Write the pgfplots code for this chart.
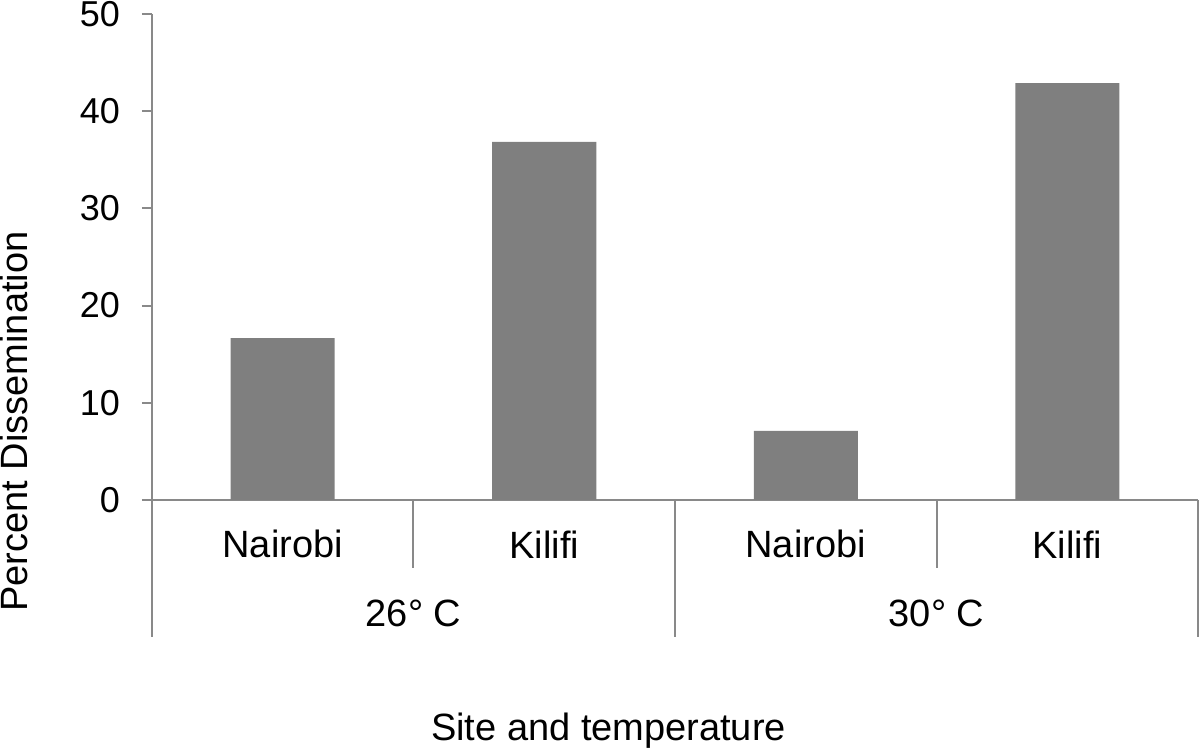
\documentclass[border=0pt]{standalone}
\usepackage{pgfplots}
\pgfplotsset{compat=1.18}
\usepackage{fontspec}
\setmainfont{Liberation Sans}
\definecolor{axgray}{HTML}{898989}
\definecolor{bargray}{HTML}{7F7F7F}
\begin{document}
\begin{tikzpicture}
\begin{axis}[
  at={(0,0)}, anchor=south west,
  scale only axis, width=523pt, height=243pt,
  xmin=0, xmax=4, ymin=0, ymax=50,
  axis x line*=bottom, axis y line*=left,
  axis line style={draw=axgray, line width=1pt},
  xtick=\empty,
  ytick={0,10,20,30,40,50},
  tick align=outside, major tick length=5pt,
  tick style={draw=axgray, line width=1pt},
  yticklabel style={font=\fontsize{18}{20}\selectfont, xshift=-7.5pt},
  /pgf/number format/assume math mode=true,
  clip=false,
]
\addplot[ybar, bar width=52pt, fill=bargray, draw=none] coordinates {(0.5,16.65) (1.5,36.85) (2.5,7.1) (3.5,42.9)};
\draw[axgray, line width=1pt] (axis cs:0,0) -- ++(0,-68.5pt);
\draw[axgray, line width=1pt] (axis cs:1,0) -- ++(0,-34pt);
\draw[axgray, line width=1pt] (axis cs:2,0) -- ++(0,-68.5pt);
\draw[axgray, line width=1pt] (axis cs:3,0) -- ++(0,-34pt);
\draw[axgray, line width=1pt] (axis cs:4,0) -- ++(0,-68.5pt);
\node[font=\fontsize{19}{22}\selectfont] at ([yshift=-22.2pt]axis cs:0.5,0) {Nairobi};
\node[font=\fontsize{19}{22}\selectfont] at ([yshift=-22.2pt]axis cs:1.5,0) {Kilifi};
\node[font=\fontsize{19}{22}\selectfont] at ([yshift=-22.2pt]axis cs:2.5,0) {Nairobi};
\node[font=\fontsize{19}{22}\selectfont] at ([yshift=-22.2pt]axis cs:3.5,0) {Kilifi};
\node[font=\fontsize{19}{22}\selectfont] at ([yshift=-56.7pt]axis cs:1,0) {26° C};
\node[font=\fontsize{19}{22}\selectfont] at ([yshift=-56.7pt]axis cs:3,0) {30° C};
\end{axis}
\node[font=\fontsize{19}{22}\selectfont] at (228.25pt,-115.25pt) {Site and temperature};
\node[font=\fontsize{19}{22}\selectfont, rotate=90] at (-69pt,39.25pt) {Percent Dissemination};
\pgfresetboundingbox
\path[use as bounding box] (-76pt,-124pt) rectangle (524pt,250pt);
\end{tikzpicture}
\end{document}
